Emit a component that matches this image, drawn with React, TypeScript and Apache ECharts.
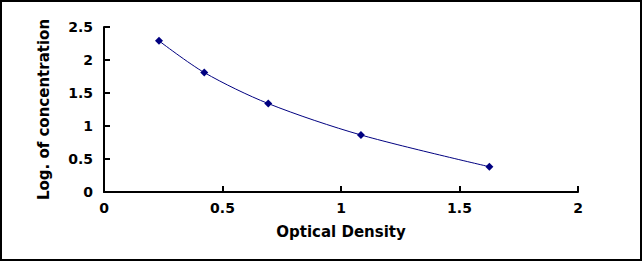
import React, { useEffect, useRef } from "react";
import * as echarts from "echarts";

const xValues = [0.232, 0.423, 0.693, 1.084, 1.626];
const yValues = [2.29, 1.81, 1.34, 0.864, 0.383];
const xTicks = [0, 0.5, 1, 1.5, 2];
const yTicks = [0, 0.5, 1, 1.5, 2, 2.5];

export default function App() {
  const ref = useRef<HTMLDivElement>(null);
  useEffect(() => {
    document.body.style.margin = "0";
    const chart = echarts.init(ref.current!, null, { renderer: "svg" });
    const font = { fontFamily: "DejaVu Sans, Verdana, sans-serif", fontWeight: "bold" as const, fontSize: 14, color: "#000" };
    chart.setOption({
      animation: false,
      backgroundColor: "#fff",
      grid: { left: 102, right: 62, top: 25, bottom: 67 },
      xAxis: {
        type: "value",
        min: xTicks[0],
        max: xTicks[xTicks.length - 1],
        interval: 0.5,
        name: "Optical Density",
        nameLocation: "middle",
        nameGap: 32,
        nameTextStyle: { ...font, fontSize: 15 },
        axisLine: { show: true, onZero: false, lineStyle: { color: "#000", width: 2 } },
        axisTick: { show: true, inside: true, length: 6, lineStyle: { color: "#000", width: 2 } },
        axisLabel: { ...font, margin: 9 },
        splitLine: { show: false },
      },
      yAxis: {
        type: "value",
        min: yTicks[0],
        max: yTicks[yTicks.length - 1],
        interval: 0.5,
        name: "Log. of concentration",
        nameLocation: "middle",
        nameGap: 53,
        nameTextStyle: { ...font, fontSize: 15 },
        axisLine: { show: true, onZero: false, lineStyle: { color: "#000", width: 2 } },
        axisTick: { show: true, inside: true, length: 6, lineStyle: { color: "#000", width: 2 } },
        axisLabel: { ...font, margin: 11 },
        splitLine: { show: false },
      },
      series: [
        {
          type: "line",
          data: xValues.map((x, i) => [x, yValues[i]]),
          smooth: 0.3,
          symbol: "diamond",
          symbolSize: 8,
          lineStyle: { color: "#000080", width: 1 },
          itemStyle: { color: "#000080" },
        },
      ],
    });
    return () => chart.dispose();
  }, []);
  return (
    <div
      style={{
        position: "absolute",
        left: 0,
        top: 0,
        width: 642,
        height: 261,
        boxSizing: "border-box",
        border: "2px solid #000",
        background: "#fff",
      }}
    >
      <div ref={ref} style={{ width: 638, height: 257 }} />
    </div>
  );
}
